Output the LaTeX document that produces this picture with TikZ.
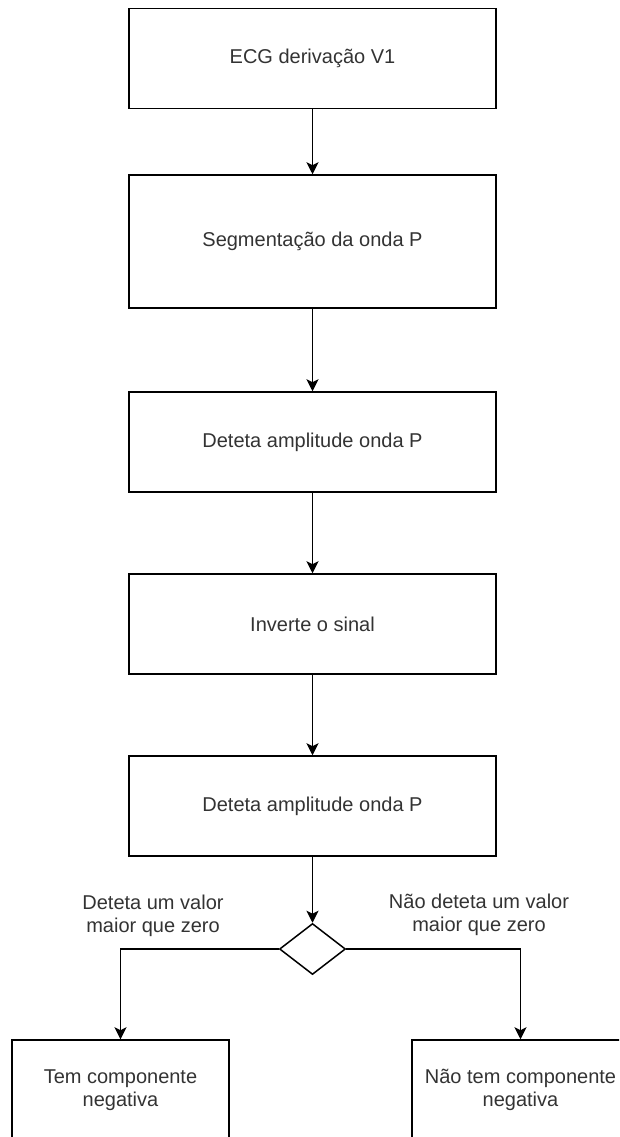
\documentclass[tikz,border=0pt]{standalone}
\usepackage{fontspec}
\setmainfont{Liberation Sans}
\usetikzlibrary{shapes.geometric,arrows.meta}
\definecolor{txtcolor}{HTML}{333333}
\tikzset{
  stepbox/.style={draw, line width=1.5pt, rectangle, minimum width=367pt, minimum height=100pt,
    inner sep=0pt, text=txtcolor, font=\fontsize{20}{23}\selectfont, align=center},
  endbox/.style={stepbox, minimum width=217pt},
  decision/.style={draw, line width=1.5pt, diamond, aspect=1.3, minimum width=66pt, minimum height=51pt, inner sep=0pt},
  flow/.style={line width=1.5pt, -{Stealth[length=12pt,width=12pt,inset=3pt]}},
  branchlabel/.style={text=txtcolor, font=\fontsize{20}{23}\selectfont, align=center, inner sep=0pt}
}

\begin{document}
\begin{tikzpicture}[x=1pt, y=-1pt]
        \useasboundingbox (0,0) rectangle (619,1137);
        \clip (0,0) rectangle (619,1137);

        % main chain
        \node (ECG)  [stepbox] at (312.5,58.5) {ECG derivação V1};
        \node (Seg)  [stepbox, minimum height=133pt] at (312.5,241.5) {Segmentação da onda P};
        \node (Amp1) [stepbox] at (312.5,442) {Deteta amplitude onda P};
        \node (Inv)  [stepbox] at (312.5,624) {Inverte o sinal};
        \node (Amp2) [stepbox] at (312.5,806) {Deteta amplitude onda P};
        \node (Dec)  [decision] at (312.5,949) {};

        % outcomes
        \node (Tem)    [endbox] at (120.5,1090) {Tem componente\\negativa};
        \node (NaoTem) [endbox] at (520.5,1090) {Não tem componente\\negativa};

        \node (LblSim) [branchlabel] at (153,916) {Deteta um valor\\maior que zero};
        \node (LblNao) [branchlabel] at (479,915) {Não deteta um valor\\maior que zero};

        \draw[flow] (ECG) -- (Seg);
        \draw[flow] (Seg) -- (Amp1);
        \draw[flow] (Amp1) -- (Inv);
        \draw[flow] (Inv) -- (Amp2);
        \draw[flow] (Amp2) -- (Dec);
        \draw[flow] (Dec.west) -| (Tem.north);
        \draw[flow] (Dec.east) -| (NaoTem.north);
    \end{tikzpicture}
\end{document}
